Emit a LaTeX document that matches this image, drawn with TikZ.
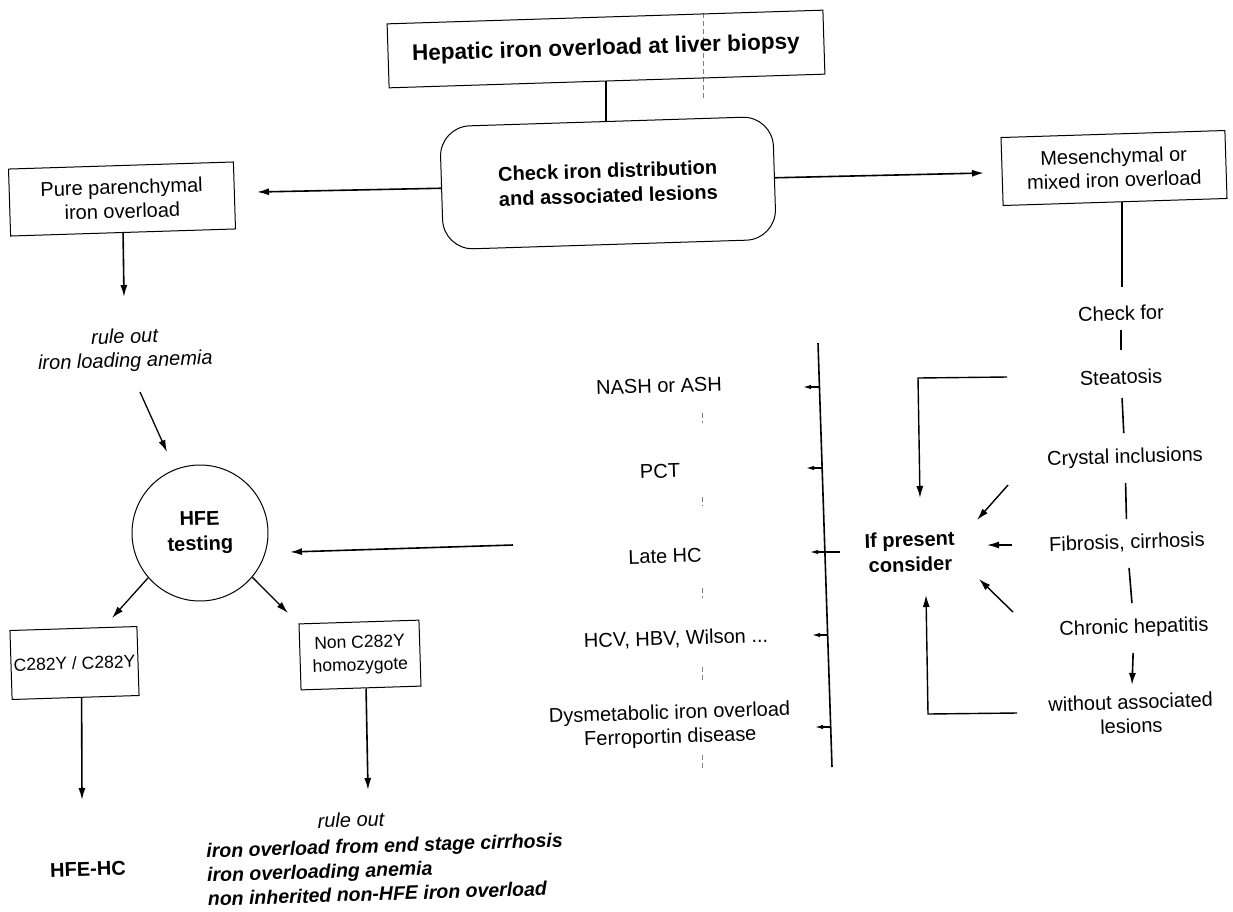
\documentclass[tikz,border=0pt]{standalone}
\usepackage{fontspec}
\setmainfont{Liberation Sans}
\usetikzlibrary{arrows.meta,calc}
\newcommand{\fsreg}{\fontsize{20}{24}\selectfont}
\newcommand{\fssml}{\fontsize{17.5}{23}\selectfont}
\newcommand{\fsbold}{\fontsize{20}{25}\selectfont\bfseries}
\newcommand{\fstitle}{\fontsize{22.5}{27}\selectfont\bfseries}
\begin{document}
\begin{tikzpicture}[x=1pt,y=-1pt,
  every node/.style={rotate=1.8},
  box/.style={draw, line width=1pt, align=center, font=\fsreg, inner sep=0pt},
  txt/.style={align=center, font=\fsreg, inner sep=1pt},
  itx/.style={align=center, font=\fsreg\itshape, inner sep=1pt},
  btx/.style={align=center, font=\fsbold, inner sep=1pt},
  arr/.style={line width=1.6pt, -{Latex[length=12pt,width=7pt]}},
  ln/.style={line width=1.6pt},
  tick/.style={line width=1.3pt, -{Latex[length=8pt,width=4.5pt]}},
  fold/.style={gray, line width=0.6pt, dash pattern=on 5pt off 3pt}
]
\useasboundingbox (0,0) rectangle (1233,911);
\fill[white] (0,0) rectangle (1233,911);

% scan fold
\draw[fold] (703,13) -- (703,98);
\foreach \ya/\yb in {413/423,497/506,588/598,667/681,755/768}
  \draw[fold] (702,\ya) -- (702,\yb);

% top part
\node[box, minimum width=436, minimum height=64, font=\fstitle] (top) at (606,49) {Hepatic iron overload at liver biopsy};
\node[box, rounded corners=30pt, minimum width=333, minimum height=123, font=\fsbold] (chk) at (608,183) {Check iron distribution\\and associated lesions};
\draw[ln] (chk.north |- top.south) -- (chk.north);

% left branch
\node[box, minimum width=225, minimum height=67] (pure) at (122,199) {Pure parenchymal\\iron overload};
\coordinate (pureTip) at (257,192);
\draw[arr] (chk.west) -- (pureTip);
\coordinate (p1) at (124,297);
\draw[arr] (pure.south) -- (p1);
\node[itx] (ro1) at (125,350) {rule out\\iron loading anemia};
\coordinate (r1s) at (140,392);
\coordinate (r1e) at (167,452);
\draw[arr, line width=1.3pt] (r1s) -- (r1e);
\node[circle, draw, line width=1pt, minimum size=136, inner sep=0pt, font=\fsbold, align=center] (hfe) at (200,533) {HFE\\testing};
\coordinate (lhs) at (513,545);
\coordinate (lhe) at (290,552);
\draw[arr] (lhs) -- (lhe);

\node[box, minimum width=127, minimum height=69, font=\fssml] (c282) at (74.5,663) {C282Y / C282Y};
\node[box, minimum width=120, minimum height=66, font=\fssml] (non) at (360,655) {Non C282Y\\homozygote};
\coordinate (cL) at (112,618);
\coordinate (cR) at (288,613);
\draw[arr, line width=1.3pt] (hfe.219) -- (cL);
\draw[arr, line width=1.3pt] (hfe.318) -- (cR);
\coordinate (c1) at (82,800);
\draw[arr] ([xshift=6pt]c282.south) -- (c1);
\node[btx] (hfehc) at (88,869) {HFE-HC};
\coordinate (n1) at (368,790);
\draw[arr] ([xshift=5pt]non.south) -- (n1);
\node[itx] (ro2) at (351,820) {rule out};
\node[anchor=west, align=left, font=\fontsize{19.5}{24}\selectfont\bfseries\itshape, inner sep=0pt] (ro3) at (207,875) {iron overload from end stage cirrhosis\\iron overloading anemia\\non inherited non-HFE iron overload};

% right branch
\node[box, minimum width=224, minimum height=68] (mes) at (1114,168) {Mesenchymal or\\mixed iron overload};
\coordinate (mesTip) at (984,173);
\draw[arr] (chk.east) -- (mesTip);

\node[txt] (cf) at (1121,313) {Check for};
\node[txt] (st) at (1121,377) {Steatosis};
\node[txt] (cr) at (1125,458) {Crystal inclusions};
\node[txt] (fi) at (1127,543) {Fibrosis, cirrhosis};
\node[txt] (ch) at (1134,628) {Chronic hepatitis};
\node[txt] (wo) at (1131,714) {without associated\\lesions};
\draw[ln] ([xshift=7pt]mes.south) -- ++(0,85);
\draw[ln, shorten <=17pt, shorten >=27pt] (cf.center) -- (st.center);
\draw[ln, shorten <=21pt, shorten >=25pt] (st.center) -- (cr.center);
\draw[ln, shorten <=25pt, shorten >=24pt] (cr.center) -- (fi.center);
\draw[ln, shorten <=25pt, shorten >=25pt] (fi.center) -- (ch.center);
\draw[arr, shorten <=25pt, shorten >=29pt] (ch.center) -- (wo.center);

\node[btx] (ifp) at (910,552) {If present\\consider};
\coordinate (s1) at (1007,377);
\coordinate (s2) at (918,378);
\coordinate (s3) at (920,498);
\draw[arr, line width=1.4pt] (s1) -- (s2) -- (s3);
\coordinate (k1) at (1008,485);
\coordinate (k2) at (977,520);
\draw[arr, line width=1.4pt] (k1) -- (k2);
\coordinate (f1) at (1012,545);
\coordinate (f2) at (987,545);
\draw[arr, line width=1.4pt] (f1) -- (f2);
\coordinate (h1) at (1013,612);
\coordinate (h2) at (979,579);
\draw[arr, line width=1.4pt] (h1) -- (h2);
\coordinate (w1) at (1017,713);
\coordinate (w2) at (928,714);
\coordinate (w3) at (926,595);
\draw[arr, line width=1.4pt] (w1) -- (w2) -- (w3);

% middle list
\coordinate (vt) at (818,343);
\coordinate (vb) at (832,767);
\draw[ln] (vt) -- (vb);
\node[txt] (nash) at (659,386) {NASH or ASH};
\node[txt] (pct) at (660,471) {PCT};
\node[txt] (late) at (665,556) {Late HC};
\node[txt] (hcv) at (676,639) {HCV, HBV, Wilson ...};
\node[txt] (dys) at (670,726) {Dysmetabolic iron overload\\Ferroportin disease};
\coordinate (t1a) at (819.5,387); \coordinate (t1b) at (803,387);
\coordinate (t2a) at (822,468);   \coordinate (t2b) at (806,468);
\coordinate (t3a) at (840,552);   \coordinate (t3b) at (810,552);
\coordinate (t4a) at (827.5,635); \coordinate (t4b) at (812,635);
\coordinate (t5a) at (830.5,727); \coordinate (t5b) at (815,727);
\foreach \a/\b in {t1a/t1b,t2a/t2b,t3a/t3b,t4a/t4b,t5a/t5b}
  \draw[tick] (\a) -- (\b);
\end{tikzpicture}
\end{document}
